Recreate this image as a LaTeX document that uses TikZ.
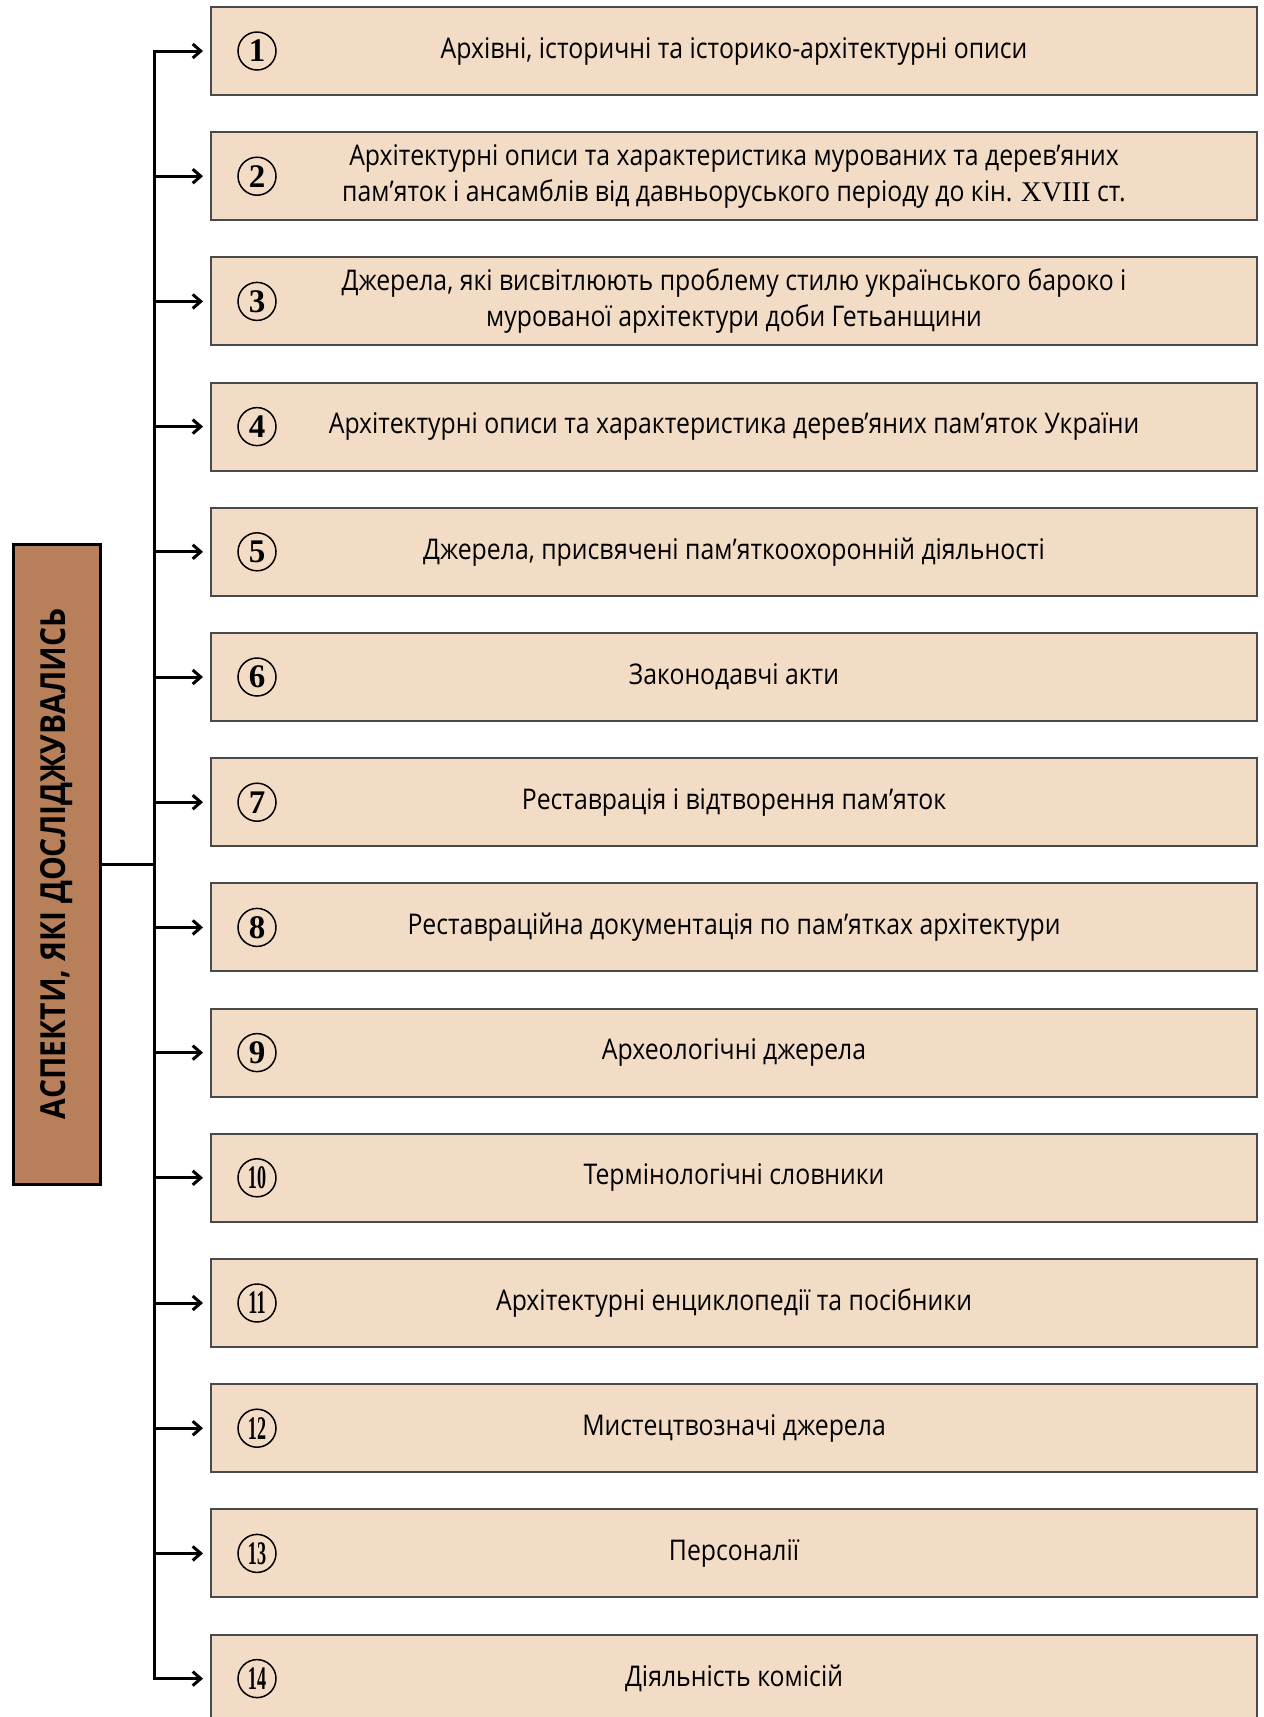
\documentclass[tikz,border=0pt]{standalone}
\usepackage{fontspec}
\setmainfont{Open Sans}[FakeStretch=0.87]
\newfontfamily\numfont{Liberation Serif}
\usetikzlibrary{arrows.meta,positioning}
\definecolor{peach}{HTML}{F3DCC6}
\definecolor{brownbox}{HTML}{B7805A}
\definecolor{edgegrey}{HTML}{4A4A4A}
\tikzset{
	itembox/.style={draw=edgegrey, line width=2pt, fill=peach, minimum width=1046pt, minimum height=88pt, inner sep=0pt, align=center, font=\fontsize{28.5}{36}\selectfont},
	numcirc/.style={circle, draw=black, line width=1.5pt, minimum size=38pt, inner sep=0pt, font=\numfont\bfseries\fontsize{33}{33}\selectfont},
	aspbox/.style={draw=black, line width=3pt, fill=brownbox, minimum width=87pt, minimum height=640pt, inner sep=0pt, font=\bfseries\fontsize{34.5}{34.5}\selectfont},
	link/.style={line width=3pt, -{Straight Barb[length=8pt,width=14pt]}, shorten >=7pt},
	spine/.style={line width=3pt, line cap=rect}
}
\begin{document}
\begin{tikzpicture}[x=1pt,y=-1pt]
	\useasboundingbox (0,0) rectangle (1264,1717);

	\node[aspbox] (asp) at (56.5,864) {\rotatebox{90}{АСПЕКТИ, ЯКІ ДОСЛІДЖУВАЛИСЬ}};
	\coordinate (hub) at (154,864);

	\foreach \i/\txt in {
		1/{Архівні, історичні та історико-архітектурні описи},
		2/{Архітектурні описи та характеристика мурованих та дерев’яних\\пам’яток і ансамблів від давньоруського періоду до кін. {\numfont XVIII} ст.},
		3/{Джерела, які висвітлюють проблему стилю українського бароко і\\мурованої архітектури доби Гетьанщини},
		4/{Архітектурні описи та характеристика дерев’яних пам’яток України},
		5/{Джерела, присвячені пам’яткоохоронній діяльності},
		6/{Законодавчі акти},
		7/{Реставрація і відтворення пам’яток},
		8/{Реставраційна документація по пам’ятках архітектури},
		9/{Археологічні джерела},
		10/{Термінологічні словники},
		11/{Архітектурні енциклопедії та посібники},
		12/{Мистецтвозначі джерела},
		13/{Персоналії},
		14/{Діяльність комісій}}{
	\coordinate (v\i) at (154,{51+(\i-1)*125.2});
	\node[itembox] (b\i) at (734,{51+(\i-1)*125.2}) {\txt};
	\node[numcirc] (n\i) at ([xshift=47pt]b\i.west) {\ifnum\i>9 \scalebox{0.55}[1]{\i}\else\i\fi};
	\draw[link] (v\i) -- (b\i);
	}

	\draw[spine] (v1) -- (v14);
	\draw[line width=3pt] (asp) -- (hub);
\end{tikzpicture}
\end{document}
